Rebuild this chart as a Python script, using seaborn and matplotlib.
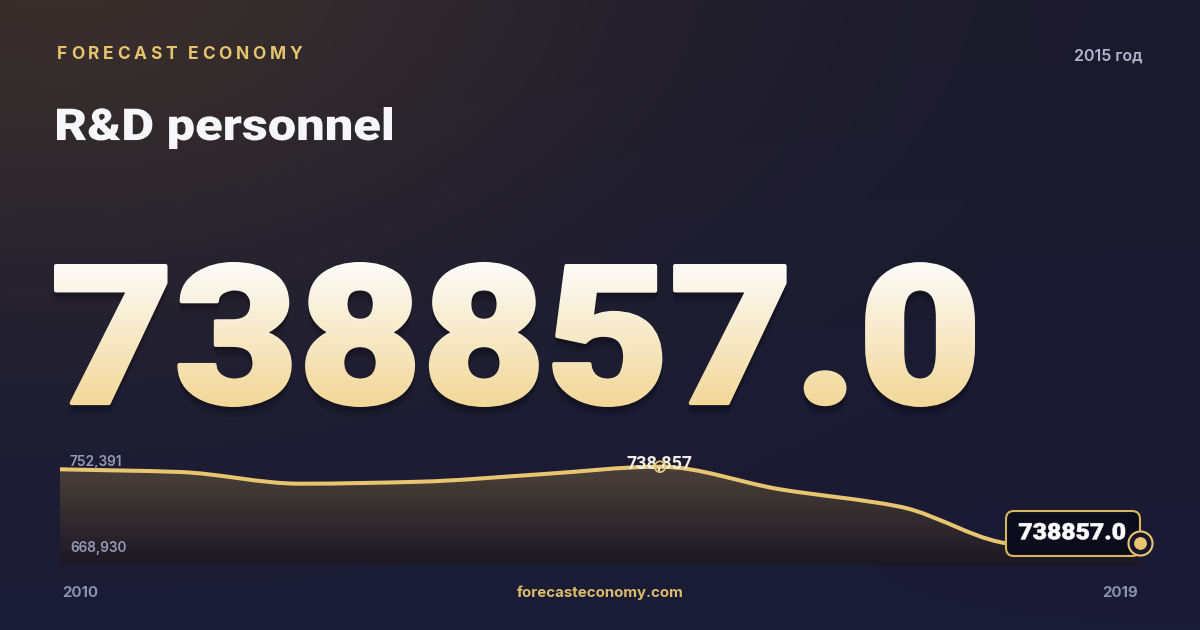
import numpy as np
import matplotlib
matplotlib.use("Agg")
import matplotlib.pyplot as plt
import seaborn as sns
from matplotlib.path import Path
from matplotlib.patches import PathPatch, FancyBboxPatch, Rectangle
from matplotlib.textpath import TextPath
from matplotlib.font_manager import FontProperties
from matplotlib.transforms import Affine2D

# data
years = [2010, 2011, 2012, 2013, 2014, 2015, 2016, 2017, 2018, 2019]
values = [736517, 734087, 723557, 725357, 732017, 738857, 718517, 702857, 668930, 670457]
highlight_year = 2015
highlight_value = 738857
top_label = "752,391"
bottom_label = "668,930"
highlight_label = "738,857"
headline = "738857.0"
title = "R&D personnel"
brand = "FORECAST ECONOMY"
period = "2015 год"
site = "forecasteconomy.com"
first_year_label = "2010"
last_year_label = "2019"

GOLD = "#e8c670"
W, H = 1200, 630

sns.set_theme(style="dark", rc={"figure.facecolor": "#1b1a30", "axes.facecolor": "none"})
plt.rcParams['font.family'] = ['Inter', 'DejaVu Sans']

fig = plt.figure(figsize=(12, 6.3), dpi=100)
# pixel coords, y going down
px = Affine2D().scale(1 / W, -1 / H).translate(0, 1) + fig.transFigure
heavy = FontProperties(family='Roboto', weight=900)


def fit_text(s, prop, x0, x1, y0, y1):
    # text outline stretched into a pixel box (y down)
    tp = TextPath((0, 0), s, size=100, prop=prop)
    bb = tp.get_extents()
    tr = Affine2D().translate(-bb.x0, -bb.y1).scale((x1 - x0) / bb.width, -(y1 - y0) / bb.height)
    return tr.translate(x0, y0).transform_path(tp)


# background with warm glow top-left
yy, xx = np.mgrid[0:H, 0:W]
t = (yy / H)[..., None]
base = np.array([27, 26, 44]) * (1 - t) + np.array([26, 27, 54]) * t
g = 0.8 * np.exp(-(((xx - 60) / 560) ** 2 + ((yy + 40) / 340) ** 2))[..., None]
bgimg = (base * (1 - g) + np.array([64, 52, 44]) * g) / 255
bg = fig.add_axes([0, 0, 1, 1], zorder=0)
bg.imshow(bgimg, extent=(0, W, H, 0), aspect='auto')
bg.axis('off')

ov = fig.add_axes([0, 0, 1, 1], zorder=1)
ov.set_facecolor('none')
ov.axis('off')

# big number with vertical gradient
top_c = np.array([253, 252, 250]) / 255
bot_c = np.array([242, 215, 150]) / 255
big_path = fit_text(headline, heavy, 56, 973, 264, 405)
for dy, a in [(3, 0.10), (6, 0.08), (10, 0.06)]:
    sh = Affine2D().translate(0, dy).transform_path(big_path)
    ov.add_patch(PathPatch(sh, fc='black', ec='black', lw=3, alpha=a, zorder=2))
grad = np.linspace(0, 1, 256)[:, None, None]
gimg = top_c * (1 - grad) + bot_c * grad
im = ov.imshow(gimg, extent=(54, 975, 407, 262), aspect='auto', zorder=3)
clip = PathPatch(big_path, fc='none', ec='none')
ov.add_patch(clip)
im.set_clip_path(clip)
# thicken strokes, banded so the gradient carries on
nb = 24
edges = np.linspace(258, 411, nb + 1)
for i in range(nb):
    f = np.clip(((edges[i] + edges[i + 1]) / 2 - 262) / 145, 0, 1)
    band = Rectangle((40, edges[i]), 960, edges[i + 1] - edges[i], transform=ov.transData)
    st = PathPatch(big_path, fc='none', ec=top_c * (1 - f) + bot_c * f, lw=2.9,
                   joinstyle='round', zorder=3.5)
    ov.add_patch(st)
    st.set_clip_path(band)
ov.set_xlim(0, W)
ov.set_ylim(H, 0)

# header texts
ov.add_patch(PathPatch(fit_text(title, heavy, 57, 392, 107, 149), fc='#f7f7fb', ec='none'))
ov.text(1143, 61, period, fontsize=11.5, fontweight='semibold', color='#b4b6cf', ha='right', va='baseline')

r = fig.canvas.get_renderer()
widths = []
for ch in brand:
    if ch == ' ':
        widths.append(0)
        continue
    tt = ov.text(0, 0, ch, fontsize=12.5, fontweight='bold')
    widths.append(tt.get_window_extent(r).width)
    tt.remove()
space_w = 4
spacing = (302 - 57 - sum(widths) - space_w) / (len(brand) - 1)
xpos = 57
for ch, w in zip(brand, widths):
    if ch != ' ':
        ov.text(xpos, 59, ch, fontsize=12.5, fontweight='bold', color='#e6c36c', va='baseline')
        xpos += w + spacing
    else:
        xpos += space_w + spacing

# footer
ov.text(62, 597, first_year_label, fontsize=10.8, fontweight='bold', color='#8e90ae', va='baseline')
ov.text(1138, 597, last_year_label, fontsize=10.8, fontweight='bold', color='#8e90ae', va='baseline', ha='right')
ov.text(600, 597, site, fontsize=10.8, fontweight='bold', color='#dcbc6a', va='baseline', ha='center')

# sparkline
y_top, y_bottom = 762887, 650387
ax = fig.add_axes([60 / W, (H - 565) / H, 1080 / W, 125 / H], zorder=2)
ax.set_facecolor('none')
ax.set_xlim(years[0], years[-1])
ax.set_ylim(y_bottom, y_top)
ax.axis('off')

x = np.array(years, float)
y = np.array(values, float)
h = np.diff(x)
d = np.diff(y) / h
m = np.zeros_like(y)
m[0], m[-1] = d[0], d[-1]
for i in range(1, len(y) - 1):
    if d[i - 1] * d[i] > 0:
        m[i] = 2 / (1 / d[i - 1] + 1 / d[i])
verts = [(x[0], y[0])]
codes = [Path.MOVETO]
for i in range(len(x) - 1):
    verts += [(x[i] + h[i] / 3, y[i] + m[i] * h[i] / 3),
              (x[i + 1] - h[i] / 3, y[i + 1] - m[i + 1] * h[i] / 3),
              (x[i + 1], y[i + 1])]
    codes += [Path.CURVE4] * 3
line_path = Path(verts, codes)
area_path = Path(verts + [(x[-1], y_bottom), (x[0], y_bottom), (x[0], y[0])],
                 codes + [Path.LINETO, Path.LINETO, Path.CLOSEPOLY])

fill_top = max(values)
fgrad = np.linspace(0, 1, 256)[:, None, None]
fimg = np.array([76, 65, 58]) / 255 * (1 - fgrad) + np.array([27, 24, 36]) / 255 * fgrad
fim = ax.imshow(fimg, extent=(x[0], x[-1], y_bottom, fill_top), aspect='auto', zorder=1)
aclip = PathPatch(area_path, fc='none', ec='none', transform=ax.transData)
ax.add_patch(aclip)
fim.set_clip_path(aclip)
ax.set_xlim(years[0], years[-1])
ax.set_ylim(y_bottom, y_top)

ax.add_patch(PathPatch(line_path, fc='none', ec=GOLD, lw=2.9, capstyle='round', zorder=3))

ax.text(70, 466, top_label, transform=px, fontsize=9.8, fontweight='semibold', color='#9798b6', va='baseline')
ax.text(70, 552, bottom_label, transform=px, fontsize=9.8, fontweight='semibold', color='#9798b6', va='baseline')
ax.text(660, 468, highlight_label, transform=px, fontsize=13, fontweight='bold', family='Roboto',
        color='#f3efe6', ha='center', va='baseline', zorder=4)
sns.scatterplot(x=[highlight_year], y=[highlight_value], ax=ax, s=60, facecolor='none',
                edgecolor=GOLD, linewidth=1.3, zorder=5, clip_on=False)

box = FancyBboxPatch((1006, 511), 134, 45, boxstyle="round,pad=0,rounding_size=8", transform=px,
                     fc='#0b0c1c', ec='#d8b65e', lw=1.5, zorder=6, clip_on=False)
ax.add_patch(box)
ax.add_patch(PathPatch(fit_text(headline, heavy, 1019, 1125, 523, 539.5), transform=px,
                       fc='white', ec='white', lw=0.4, zorder=7, clip_on=False))
sns.scatterplot(x=[years[-1]], y=[values[-1]], ax=ax, s=300, facecolor='#16162c',
                edgecolor=GOLD, linewidth=1.5, zorder=8, clip_on=False)
sns.scatterplot(x=[years[-1]], y=[values[-1]], ax=ax, s=85, color=GOLD,
                linewidth=0, zorder=9, clip_on=False)

fig.savefig("out.png", dpi=100)
